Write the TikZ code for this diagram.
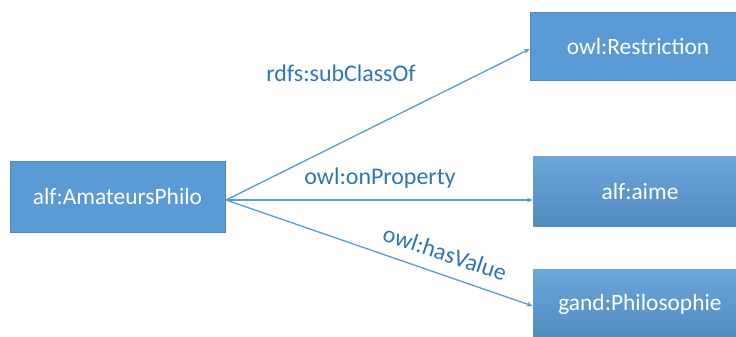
\documentclass[tikz,border=0pt]{standalone}
\usepackage{fontspec}
\setmainfont{Carlito}
\usepackage{xcolor}
\usetikzlibrary{arrows.meta}

\definecolor{boxblue}{HTML}{5B9BD5}
\definecolor{boxedge}{HTML}{4F88C2}
\definecolor{linkblue}{HTML}{5B9BD5}
\definecolor{textblue}{HTML}{2F75B5}

\begin{document}
\begin{tikzpicture}[x=1bp, y=-1bp, >={Stealth[length=6bp,width=5bp]},
  classbox/.style={rectangle, inner sep=0pt, fill=boxblue, draw=boxedge, line width=0.5bp, text=white, font=\fontsize{23.5}{28}\selectfont},
  shadebox/.style={classbox, draw=none, top color=boxblue!90!white, bottom color=boxblue!90!black},
  link/.style={->, draw=linkblue, line width=1.3bp},
  linklabel/.style={text=textblue, font=\fontsize{24}{28}\selectfont}]

\useasboundingbox (0,0) rectangle (736,336);
\clip (0,0) rectangle (736,336);

% classes
\node (amateur) at (117.5, 196.5) [classbox, minimum width=215bp, minimum height=71bp] {alf:AmateursPhilo};
\node (restriction) at (638, 46) [classbox, minimum width=216bp, minimum height=68bp] {owl:Restriction};
\node (aime) at (640, 191) [shadebox, minimum width=214bp, minimum height=70bp] {alf:aime};
\node (philo) at (640, 304) [shadebox, minimum width=214bp, minimum height=70bp] {gand:Philosophie};

% properties
\coordinate (src) at (226, 200);
\draw[link] (src) -- ([yshift=-3bp]restriction.west);
\draw[link] (src) -- (src -| aime.west);
\draw[link] (src) -- ([yshift=-2bp]philo.west);

\node (subclass) at (341, 73) [linklabel] {rdfs:subClassOf};
\node (onprop) at (380, 178) [linklabel] {owl:onProperty};
\node (hasvalue) at (445, 253) [linklabel, rotate=-18.5] {owl:hasValue};

\end{tikzpicture}
\end{document}
